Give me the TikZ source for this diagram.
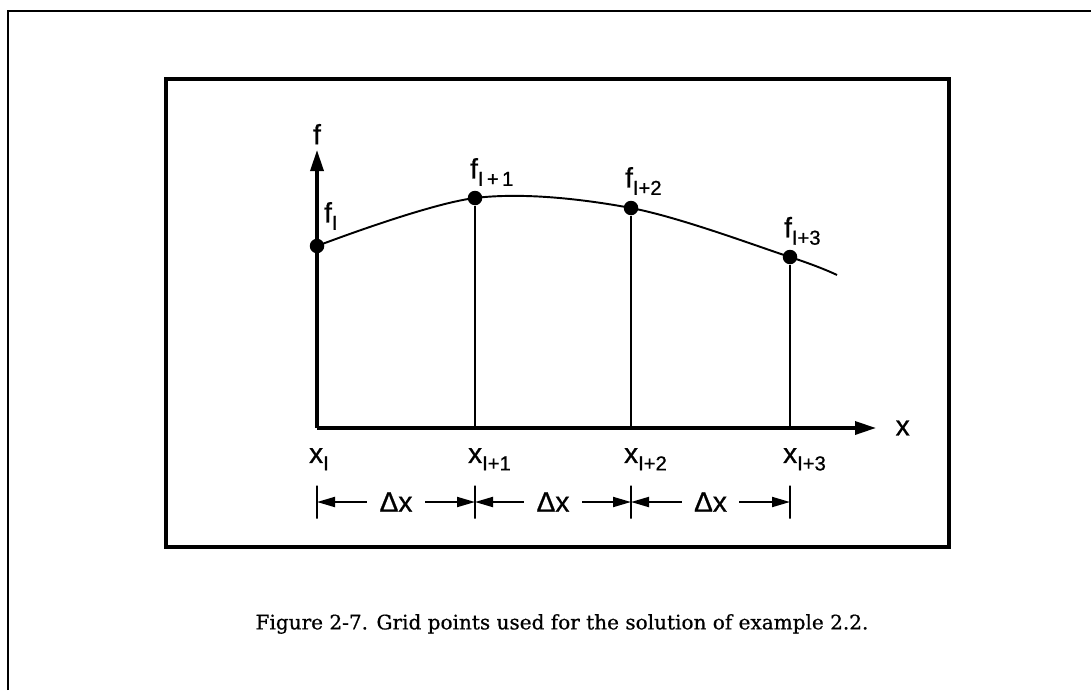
\documentclass[tikz,border=0pt]{standalone}
\usepackage{fontspec}
\usetikzlibrary{arrows.meta,positioning}
\newfontfamily\capfont[FakeBold=0.6]{DejaVu Serif}
\newfontfamily\labfont[FakeBold=0.8]{Liberation Sans}
% low subscript as in the figure
\newcommand{\lowsub}[1]{\raisebox{-0.5ex}{\fontsize{11.5}{11.5}\selectfont #1}}
\tikzset{
  % frames
  outerframe/.style={line width=1.6pt},
  panel/.style={line width=2.2pt},
  % axes with solid heads
  axis/.style={line width=1.9pt,-{Triangle[length=0.42cm,width=0.26cm]}},
  % ordinates and curve
  ord/.style={line width=1.1pt},
  curve/.style={line width=1.1pt},
  % grid point marker
  gdot/.style={circle,fill=black,inner sep=0pt,minimum size=0.29cm},
  % labels
  lab/.style={font=\labfont\fontsize{16}{18}\selectfont,inner sep=1pt},
  % spacing ticks and arrows
  tickmark/.style={draw,line width=1.1pt,inner sep=0pt,outer sep=0pt,
    minimum width=0pt,minimum height=0.66cm},
  dimarr/.style={line width=1.1pt,
    {Triangle[length=0.36cm,width=0.2cm]}-{Triangle[length=0.36cm,width=0.2cm]}},
  dimlab/.style={lab,fill=white,inner xsep=7pt},
}
\begin{document}
\begin{tikzpicture}[x=0.02cm,y=-0.02cm]
  \useasboundingbox (0,0) rectangle (1091,690);
  \draw[outerframe] (8,690) -- (8,11) -- (1091,11);
  \draw[panel] (166,79) rectangle (949,547);

  % axes
  \coordinate (o) at (317,428);
  \coordinate (ytip) at (317,150);
  \coordinate (xtip) at (876,428);
  \draw[axis] (o) -- (ytip);
  \draw[axis] (o) -- (xtip);
  \node[lab,above=2pt of ytip] (flab) {f};
  \node[lab,right=10pt of xtip] (xlab) {x};

  % grid points on the curve
  \node[gdot] (f0) at (317,246) {};
  \node[gdot] (f1) at (475,198) {};
  \node[gdot] (f2) at (631,208) {};
  \node[gdot] (f3) at (790,257) {};
  \coordinate (fend) at (837,275);
  \draw[curve] plot[smooth,tension=0.55] coordinates {(f0) (f1) (f2) (f3) (fend)};

  % feet on the x axis
  \coordinate (x1) at (475,428);
  \coordinate (x2) at (631,428);
  \coordinate (x3) at (790,428);
  \draw[ord] (f1) -- (x1);
  \draw[ord] (f2) -- (x2);
  \draw[ord] (f3) -- (x3);

  % point labels
  \node[lab,anchor=south west] (f0lab) at (322,232) {f\lowsub{I}};
  \node[lab,anchor=south west] (f1lab) at (468,188) {f\lowsub{I\,+\,1}};
  \node[lab,anchor=south west] (f2lab) at (623,197) {f\lowsub{I+2}};
  \node[lab,anchor=south west] (f3lab) at (782,247) {f\lowsub{I+3}};

  \node[lab,anchor=north west] (x0lab) at (307,446) {x\lowsub{I}};
  \node[lab,anchor=north west] (x1lab) at (466,446) {x\lowsub{I+1}};
  \node[lab,anchor=north west] (x2lab) at (622,446) {x\lowsub{I+2}};
  \node[lab,anchor=north west] (x3lab) at (781,446) {x\lowsub{I+3}};

  % spacing
  \node[tickmark] (d0) at (317,502) {};
  \node[tickmark] (d1) at (475,502) {};
  \node[tickmark] (d2) at (631,502) {};
  \node[tickmark] (d3) at (790,502) {};
  \draw[dimarr] (d0) -- node[dimlab] {Δx} (d1);
  \draw[dimarr] (d1) -- node[dimlab] {Δx} (d2);
  \draw[dimarr] (d2) -- node[dimlab] {Δx} (d3);

  \node[font=\capfont\fontsize{11.4}{14}\selectfont] (caption) at (562,624)
    {Figure 2-7. Grid points used for the solution of example 2.2.};
\end{tikzpicture}
\end{document}
